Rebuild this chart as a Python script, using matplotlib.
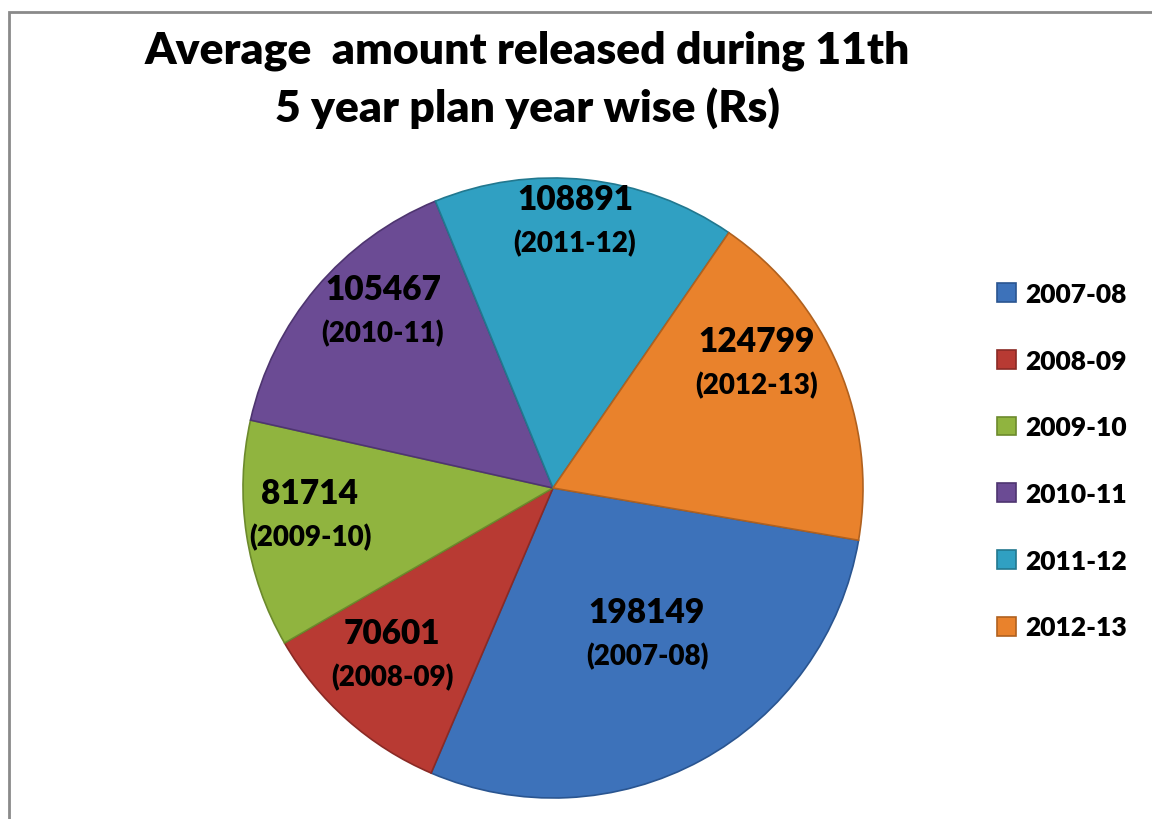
import matplotlib.pyplot as plt
from matplotlib.patches import Rectangle

# Average amount released per year of the 11th five year plan
years = ['2007-08', '2008-09', '2009-10', '2010-11', '2011-12', '2012-13']
amounts = [198149, 70601, 81714, 105467, 108891, 124799]
colors = ['#3d72ba', '#b83a33', '#90b43f', '#6b4b94', '#30a0c2', '#e9822c']
edge_colors = ['#2a5590', '#8a2a25', '#6c8a2c', '#4e3570', '#22788f', '#b0611f']

# label centres in figure pixels (x, y from top)
label_pos = [(647, 613), (392, 634), (310, 494), (383, 290), (575, 200), (757, 342)]

W, H = 1152, 820
plt.rcParams['font.family'] = ['Lato', 'DejaVu Sans']
fig = plt.figure(figsize=(W / 100, H / 100), dpi=100)

cx, cy, r = 553, 489, 310
ax = fig.add_axes([(cx - r) / W, (H - cy - r) / H, 2 * r / W, 2 * r / H])
wedges, _ = ax.pie(amounts, colors=colors, startangle=-9.7, counterclock=False,
                   radius=1.0, wedgeprops=dict(linewidth=1.2))
for w, ec in zip(wedges, edge_colors):
    w.set_edgecolor(ec)
ax.set_xlim(-1, 1)
ax.set_ylim(-1, 1)
ax.set_aspect('equal')

for (px, py), val, yr in zip(label_pos, amounts, years):
    fig.text(px / W, 1 - py / H, str(val), ha='center', va='center',
             fontsize=24, fontweight='heavy')
    fig.text(px / W, 1 - (py + 44) / H, f'({yr})', ha='center', va='center',
             fontsize=20, fontweight='heavy')

fig.text(527 / W, 1 - 51 / H, 'Average  amount released during 11th',
         ha='center', va='center', fontsize=32, fontweight='heavy')
fig.text(527 / W, 1 - 108 / H, '5 year plan year wise (Rs)',
         ha='center', va='center', fontsize=32, fontweight='heavy')

leg = fig.legend(wedges, years, loc='upper left', bbox_to_anchor=(973 / W, 1 - 259 / H),
                 frameon=False, handlelength=0.72, handleheight=0.72, handletextpad=0.35,
                 labelspacing=1.62, prop=dict(size=19, weight='heavy'))

# outer chart frame
fig.patches.append(Rectangle((9 / W, -0.05), 1.1, 1 - 13 / H + 0.05,
                             transform=fig.transFigure, fill=False,
                             edgecolor='#8a8a8a', linewidth=2))

fig.savefig('out.png', dpi=100)
